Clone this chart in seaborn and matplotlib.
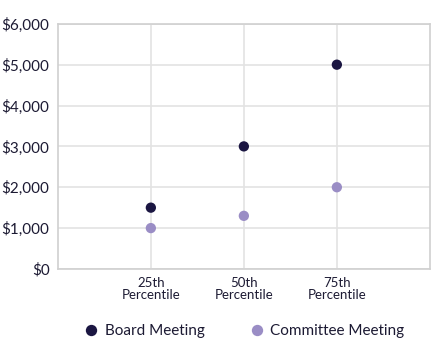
import pandas as pd
import numpy as np
import matplotlib
matplotlib.use("Agg")
import matplotlib.pyplot as plt
import seaborn as sns

# Chart data
percentiles = ["25th\nPercentile", "50th\nPercentile", "75th\nPercentile"]
board_meeting = [1500, 3000, 5000]
committee_meeting = [1000, 1300, 2000]
y_ticks = [0, 1000, 2000, 3000, 4000, 5000, 6000]

df = pd.DataFrame({
    "pos": list(range(len(percentiles))) * 2,
    "value": board_meeting + committee_meeting,
    "series": ["Board Meeting"] * 3 + ["Committee Meeting"] * 3,
})

sns.set_theme(style="white")
plt.rcParams['font.family'] = ['Lato', 'DejaVu Sans']

grid_col = "#e3e3e3"
text_col = "#1c1a33"
palette = {"Board Meeting": "#1b1642", "Committee Meeting": "#9a8dc5"}

fig = plt.figure(figsize=(4.45, 3.61), dpi=100)
ax = fig.add_axes([0.130, 0.255, 0.836, 0.679])

sns.scatterplot(data=df, x="pos", y="value", hue="series", palette=palette,
                s=55, edgecolor="none", ax=ax, zorder=3)

ax.set_xlim(-1, 3)
ax.set_ylim(0, 6000)
ax.set_xticks(range(len(percentiles)))
ax.set_xticklabels(percentiles, fontsize=9.5, color=text_col, linespacing=1.0)
ax.set_yticks(y_ticks)
ax.set_yticklabels([f"${v:,}" for v in y_ticks], fontsize=11, color=text_col)
ax.tick_params(axis="both", length=0, pad=6)
ax.grid(True, color=grid_col, linewidth=1.2)
ax.set_axisbelow(True)
for sp in ax.spines.values():
    sp.set_color("#d0d0d0")
    sp.set_linewidth(1.2)
ax.set_xlabel("")
ax.set_ylabel("")

ax.legend(loc="upper center", bbox_to_anchor=(0.49, -0.17), ncol=2, frameon=False,
          fontsize=11, handletextpad=-0.1, columnspacing=2.4, markerscale=1.1,
          labelcolor=text_col)

fig.savefig("out.png", dpi=100)
